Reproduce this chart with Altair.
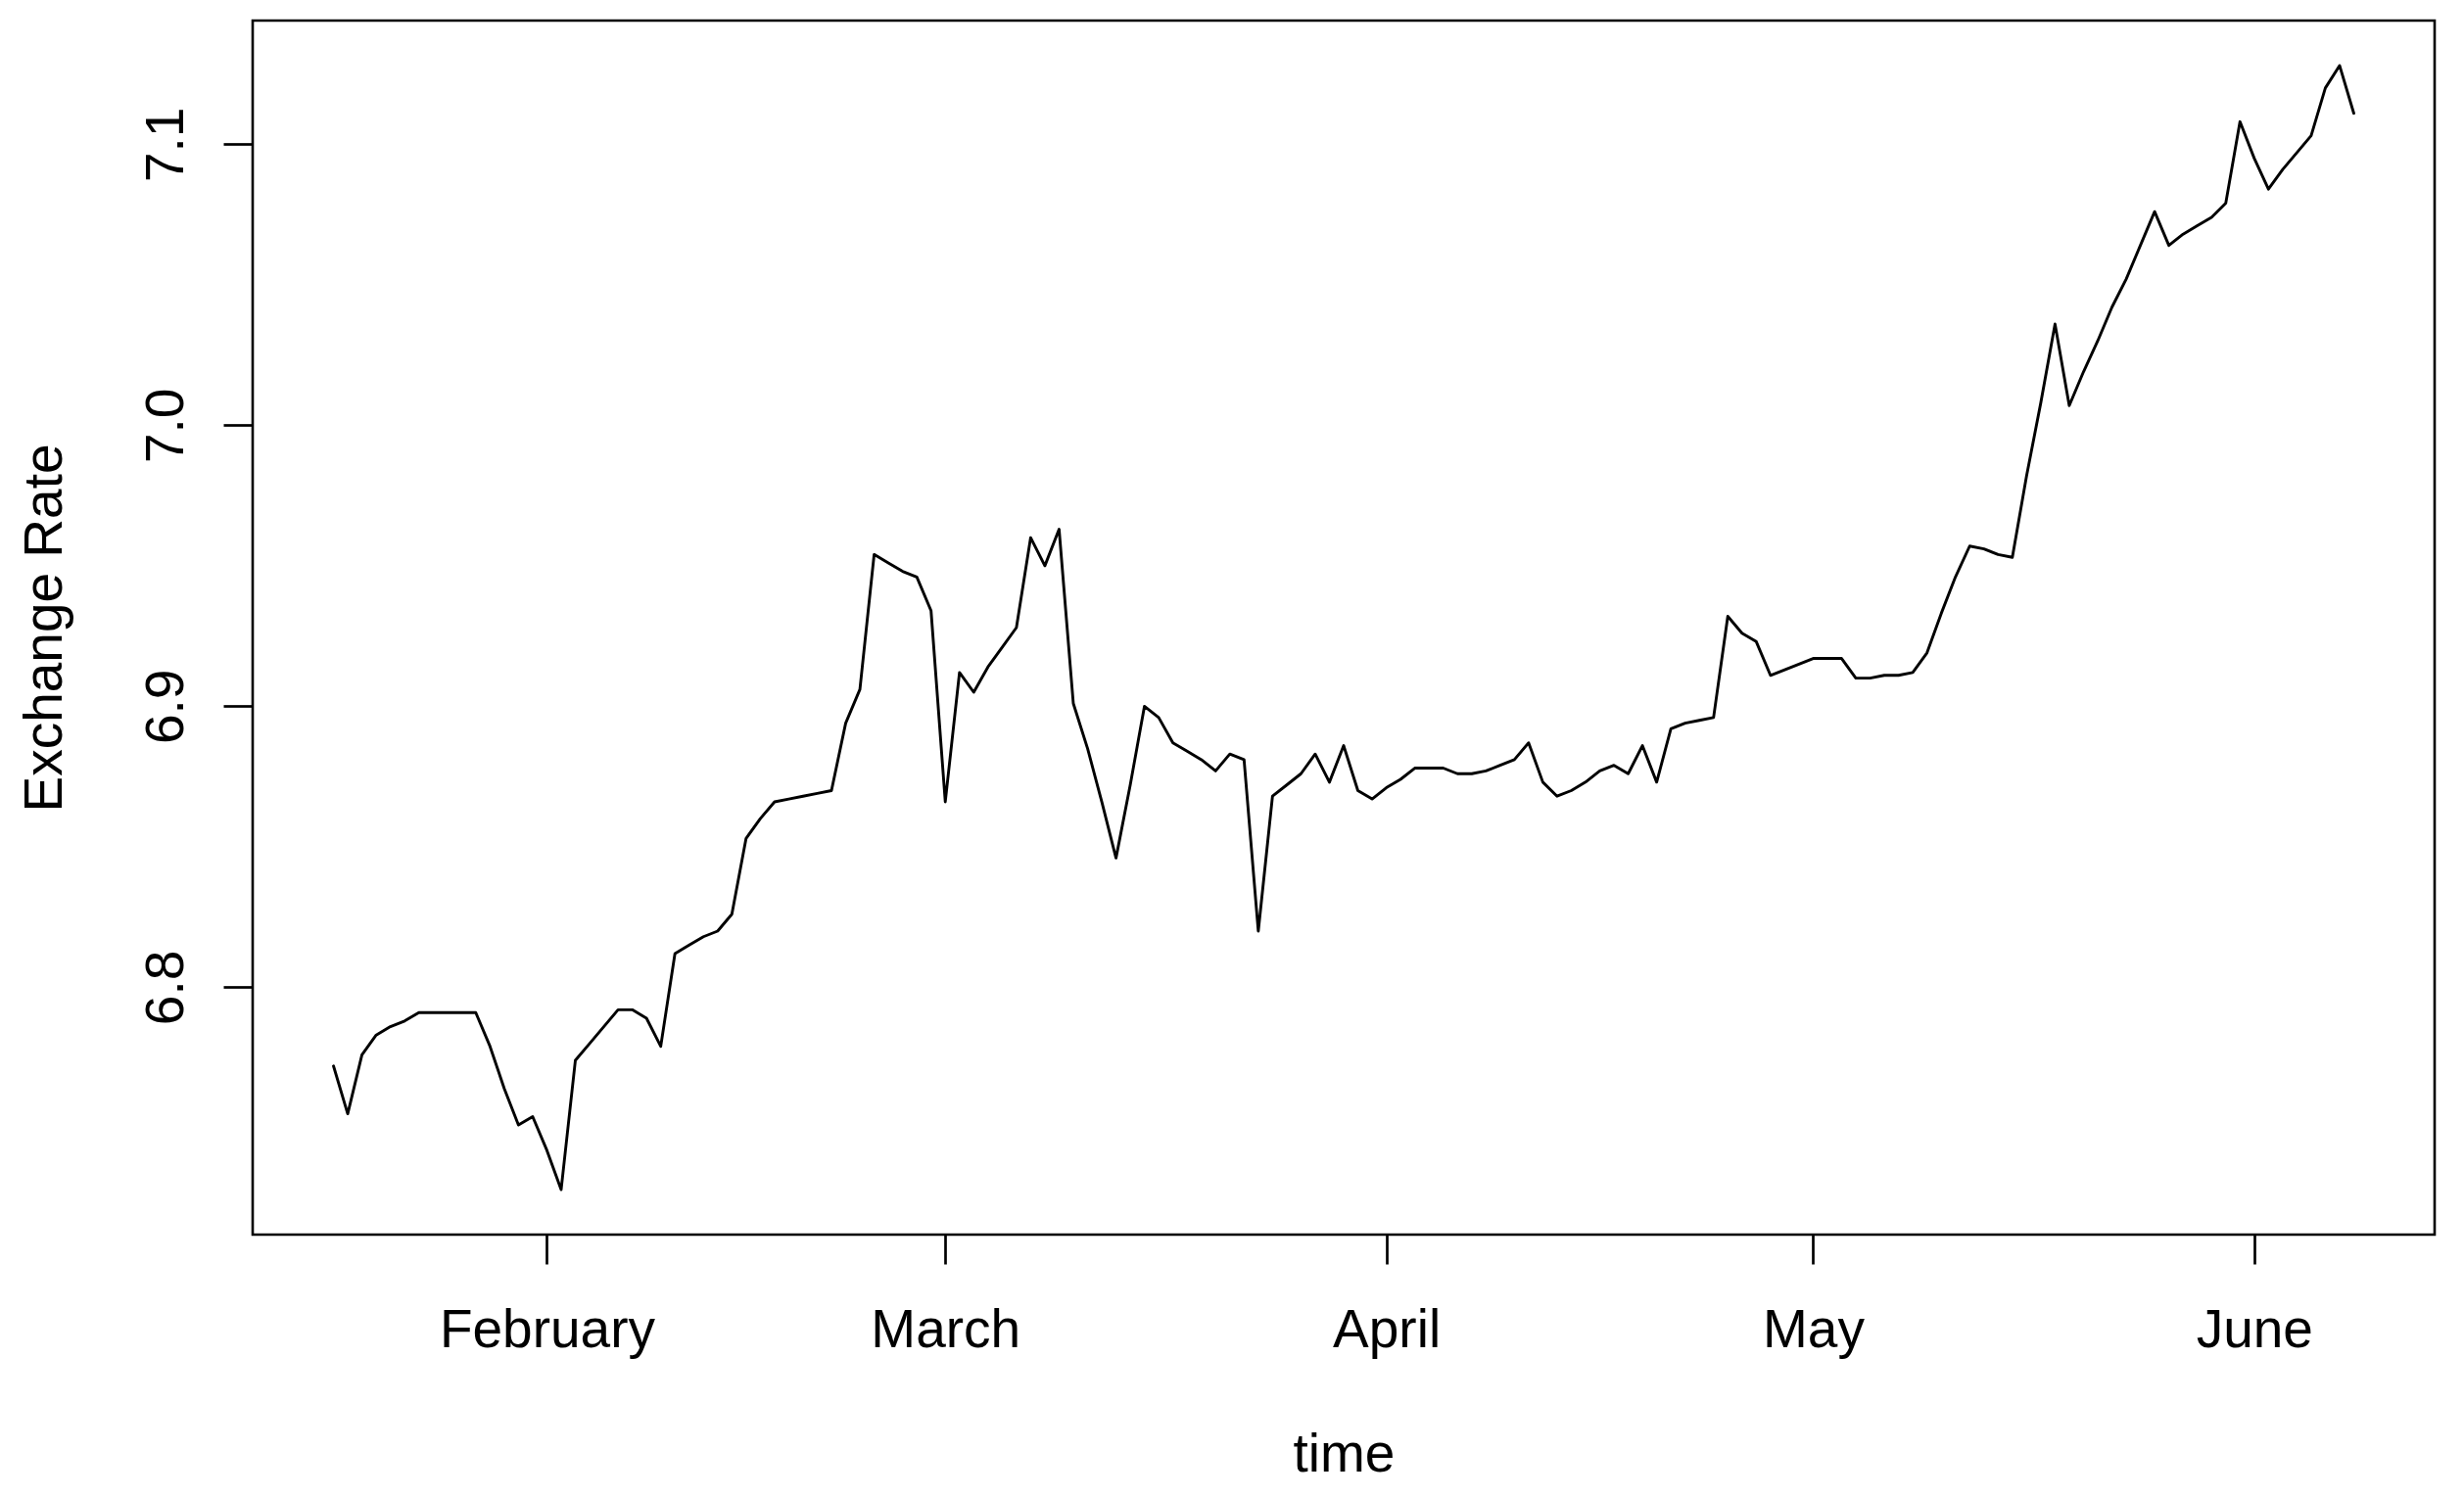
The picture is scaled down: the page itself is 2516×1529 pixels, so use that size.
import altair as alt
import pandas as pd

# Daily exchange rate, 17 Jan - 8 Jun
rate = [
    6.772, 6.755, 6.776, 6.783, 6.786, 6.788, 6.791, 6.791, 6.791, 6.791,
    6.791, 6.779, 6.764, 6.751, 6.754, 6.742, 6.728, 6.774, 6.780, 6.786,
    6.792, 6.792, 6.789, 6.779, 6.812, 6.815, 6.818, 6.820, 6.826, 6.853,
    6.860, 6.866, 6.867, 6.868, 6.869, 6.870, 6.894, 6.906, 6.954, 6.951,
    6.948, 6.946, 6.934, 6.866, 6.912, 6.905, 6.914, 6.921, 6.928, 6.960,
    6.950, 6.963, 6.901, 6.885, 6.866, 6.846, 6.872, 6.900, 6.896, 6.887,
    6.884, 6.881, 6.877, 6.883, 6.881, 6.820, 6.868, 6.872, 6.876, 6.883,
    6.873, 6.886, 6.870, 6.867, 6.871, 6.874, 6.878, 6.878, 6.878, 6.876,
    6.876, 6.877, 6.879, 6.881, 6.887, 6.873, 6.868, 6.870, 6.873, 6.877,
    6.879, 6.876, 6.886, 6.873, 6.892, 6.894, 6.895, 6.896, 6.932, 6.926,
    6.923, 6.911, 6.913, 6.915, 6.917, 6.917, 6.917, 6.910, 6.910, 6.911,
    6.911, 6.912, 6.919, 6.933, 6.946, 6.957, 6.956, 6.954, 6.953, 6.982,
    7.008, 7.036, 7.007, 7.019, 7.030, 7.042, 7.052, 7.064, 7.076, 7.064,
    7.068, 7.071, 7.074, 7.079, 7.108, 7.095, 7.084, 7.091, 7.097, 7.103,
    7.120, 7.128, 7.111,
]
start_date = "2023-01-17"
date_index = pd.date_range(start_date, periods=len(rate), freq="D")
dates = date_index.strftime("%Y-%m-%dT00:00:00").tolist()

tick_months = [2, 3, 4, 5, 6]
y_ticks = [6.8, 6.9, 7.0, 7.1]
x_title = "time"
y_title = "Exchange Rate"

df = pd.DataFrame({"date": dates, "rate": rate})

# R-style 4% axis extension
span = date_index[-1] - date_index[0]
ext = span * 0.04
dmin_ts = date_index[0] - ext
dmax_ts = date_index[-1] + ext


def to_dt(ts):
    return alt.DateTime(year=ts.year, month=ts.month, date=ts.day,
                        hours=ts.hour, minutes=ts.minute)


rmin, rmax = min(rate), max(rate)
yext = (rmax - rmin) * 0.04
ydom = [rmin - yext, rmax + yext]

FONT = "Liberation Sans"
FS = 55

chart = alt.Chart(df).mark_line(
    color="black", strokeWidth=2.9, strokeJoin="round", strokeCap="round"
).encode(
    x=alt.X(
        "date:T",
        scale=alt.Scale(domain=[to_dt(dmin_ts), to_dt(dmax_ts)], nice=False),
        axis=alt.Axis(
            values=[alt.DateTime(year=2023, month=m, date=1) for m in tick_months],
            format="%B", formatType="time",
            title=x_title,
            labelAlign="center", labelBaseline="alphabetic", labelPadding=84,
            labelFlush=False, labelOverlap=False, labelBound=False,
            labelLimit=1000,
            titleX=1114, titleY=241, titleAngle=0,
            titleAlign="center", titleBaseline="alphabetic", titleLimit=1000,
        ),
    ),
    y=alt.Y(
        "rate:Q",
        scale=alt.Scale(domain=ydom, nice=False, zero=False),
        axis=alt.Axis(
            values=y_ticks, format=".1f",
            title=y_title,
            labelAngle=270, labelAlign="center", labelBaseline="alphabetic",
            labelPadding=42, labelFlush=False, labelOverlap=False, labelBound=False,
            labelLimit=1000,
            titleX=-196, titleY=620, titleAngle=270,
            titleAlign="center", titleBaseline="alphabetic", titleLimit=1000,
        ),
    ),
).properties(
    width=2228,
    height=1240,
    autosize=alt.AutoSizeParams(type="none"),
    padding={"left": 250, "top": 13, "right": 22, "bottom": 256},
).configure_view(
    stroke="black", strokeWidth=2.6
).configure_axis(
    domain=False, grid=False, ticks=True,
    tickColor="black", tickSize=30, tickWidth=2.7,
    labelFont=FONT, labelFontSize=FS, labelColor="black",
    titleFont=FONT, titleFontSize=FS, titleFontWeight="normal", titleColor="black",
)

chart.save("out.html", embed_options={"renderer": "svg", "actions": False})
